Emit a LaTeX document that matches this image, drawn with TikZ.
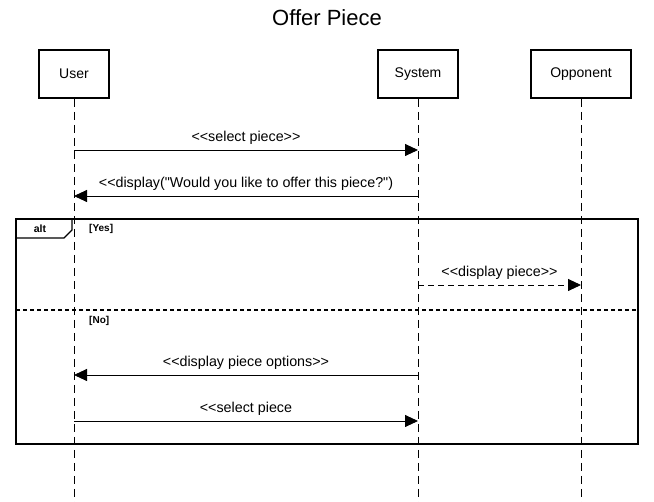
\documentclass[tikz,border=0pt]{standalone}
\usepackage{fontspec}
\setmainfont{Liberation Sans}[Ligatures=TeXOff]
\usetikzlibrary{positioning, arrows.meta, calc}

\tikzset{
    actor/.style={draw, line width=1.6pt, minimum width=70pt, minimum height=48pt, font=\fontsize{14}{16}\selectfont},
    life/.style={line width=0.8pt, dash pattern=on 8pt off 5pt},
    msg/.style={line width=0.9pt, -{Triangle[length=13pt, width=12pt]}},
    lbl/.style={font=\fontsize{14.3}{16}\selectfont, inner sep=0pt, above=5pt},
    guard/.style={font=\bfseries\fontsize{10}{12}\selectfont, anchor=west, inner sep=0pt}
}

\begin{document}
\begin{tikzpicture}[x=1pt, y=-1pt]
    \useasboundingbox (0,0) rectangle (654,502);

    \node[font=\fontsize{22}{26}\selectfont] (title) at (327,18) {Offer Piece};

    \node[actor] (user) at (74,74) {User};
    \node[actor, minimum width=80pt] (sys) at (418,74) {System};
    \node[actor, minimum width=100pt] (opp) at (581,74) {Opponent};

    \coordinate (userEnd) at (74,502);
    \coordinate (sysEnd) at (418,502);
    \coordinate (oppEnd) at (581,502);

    \draw[life] (user) -- (userEnd);
    \draw[life] (sys) -- (sysEnd);
    \draw[life] (opp) -- (oppEnd);

    % alt frame
    \draw[line width=1.6pt] (16,219) rectangle (638,444);
    \draw[line width=1.3pt] (16,238) -- (64,238) -- (72,230) -- (72,219);
    \node[font=\bfseries\fontsize{10.5}{12}\selectfont] (alt) at (40,228.5) {alt};
    \node[guard] (yes) at (89,228.5) {[Yes]};
    \node[guard] (no) at (89,321) {[No]};
    \draw[line width=1.3pt, dash pattern=on 4pt off 3pt] (16,310) -- (638,310);

    % messages
    \coordinate (u1) at (74,150);  \coordinate (s1) at (418,150);
    \coordinate (u2) at (74,196);  \coordinate (s2) at (418,196);
    \coordinate (s3) at (418,285); \coordinate (o3) at (581,285);
    \coordinate (u4) at (74,375);  \coordinate (s4) at (418,375);
    \coordinate (u5) at (74,421);  \coordinate (s5) at (418,421);

    \draw
        (u1) edge[msg] node[lbl]{<<select piece>>} (s1)
        (s2) edge[msg] node[lbl]{<<display("Would you like to offer this piece?")} (u2)
        (s3) edge[msg, dash pattern=on 6pt off 4pt] node[lbl]{<<display piece>>} (o3)
        (s4) edge[msg] node[lbl]{<<display piece options>>} (u4)
        (u5) edge[msg] node[lbl]{<<select piece} (s5)
        ;
\end{tikzpicture}
\end{document}
